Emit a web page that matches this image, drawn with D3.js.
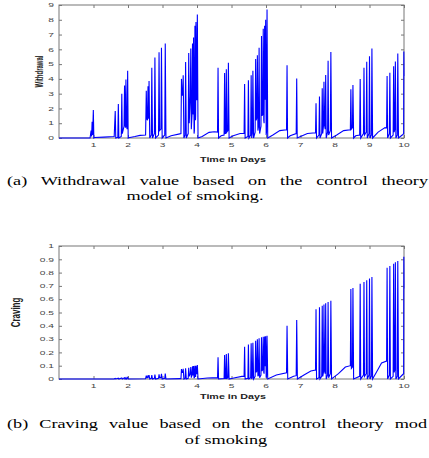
<!DOCTYPE html>
<html>
<head>
<meta charset="utf-8">
<script src="https://cdn.jsdelivr.net/npm/d3@7"></script>
<style>
    body { margin: 0; background: #fff; }
    svg { display: block; }
</style>
</head>
<body>
<div id="chart"></div>
<script>
// tick values / labels
const dayTicks = [1, 2, 3, 4, 5, 6, 7, 8, 9, 10];
const withdrawalTicks = [0, 1, 2, 3, 4, 5, 6, 7, 8, 9];
const cravingTicks = [0, 0.1, 0.2, 0.3, 0.4, 0.5, 0.6, 0.7, 0.8, 0.9, 1];

// withdrawal over time: [day, value]
const withdrawal = [
    [0, 0], [0.9, 0], [0.93, 0.5], [0.945, 0.1], [0.96, 1.1], [0.975, 0.2], [0.995, 1.9], [1.01, 0], [1.03, 0.03],
    [1.3, 0.06], [1.6, 0.1],
    [1.63, 1.82], [1.645, 0], [1.705, 0.05], [1.72, 2.3], [1.735, 0], [1.805, 0.1], [1.82, 3.0], [1.835, 0.3],
    [1.885, 0.8], [1.9, 3.55], [1.915, 0.9], [1.925, 0.7], [1.94, 3.95], [1.955, 0.8], [1.975, 0.6], [1.99, 4.55],
    [2.005, 0], [2.02, 0.02], [2.2, 0.1], [2.35, 0.18], [2.51, 0.2],
    [2.53, 3.2], [2.545, 1.3], [2.565, 1.2], [2.58, 3.5], [2.595, 1.4], [2.6, 1.3], [2.61, 3.85], [2.63, 0],
    [2.675, 0.2], [2.69, 4.75], [2.71, 0], [2.765, 0.3], [2.78, 5.45], [2.8, 0], [2.885, 0.2], [2.9, 5.8],
    [2.915, 0.5], [2.955, 0.6], [2.97, 6.1], [2.99, 0], [3.065, 0.2], [3.08, 6.4], [3.1, 0],
    [3.25, 0.15], [3.5, 0.28], [3.535, 0.3],
    [3.55, 4.0], [3.565, 2.9], [3.585, 2.9], [3.6, 4.25], [3.62, 0], [3.655, 0.2], [3.67, 5.15], [3.69, 0],
    [3.745, 0.3], [3.76, 5.75], [3.775, 1.0], [3.805, 2.8], [3.82, 6.05], [3.835, 0.6], [3.855, 1.5], [3.87, 6.4],
    [3.885, 1.7], [3.89, 1.6], [3.9, 6.8], [3.915, 0.3], [3.925, 0.5], [3.94, 7.6], [3.955, 1.2], [3.96, 1.5],
    [3.97, 7.85], [3.985, 2.6], [3.995, 2.6], [4.01, 8.35], [4.03, 0],
    [4.15, 0.1], [4.35, 0.38], [4.5, 0.42], [4.595, 0.4],
    [4.61, 4.75], [4.625, 0], [4.7, 0.15], [4.785, 0.2], [4.8, 4.4], [4.815, 0.3], [4.835, 0.3], [4.85, 4.65],
    [4.865, 0.4], [4.895, 0.5], [4.91, 5.1], [4.93, 0],
    [5.05, 0.15], [5.25, 0.3], [5.365, 0.3],
    [5.38, 3.65], [5.395, 0], [5.475, 0.1], [5.49, 3.9], [5.505, 0], [5.555, 0.2], [5.57, 4.25], [5.585, 0],
    [5.605, 0.3], [5.62, 4.55], [5.64, 0], [5.685, 0.4], [5.7, 5.35], [5.715, 1.2], [5.735, 1.4], [5.75, 5.6],
    [5.765, 0.5], [5.785, 0.8], [5.8, 6.1], [5.815, 0.3], [5.855, 0.8], [5.87, 6.9], [5.885, 1.5], [5.905, 1.6],
    [5.92, 7.4], [5.935, 1.2], [5.945, 1.0], [5.96, 7.6], [5.975, 2.7], [5.98, 2.6], [5.99, 8.0], [6.005, 0.2],
    [6.015, 0.4], [6.03, 8.7], [6.05, 0],
    [6.2, 0.2], [6.4, 0.5], [6.595, 0.55],
    [6.61, 4.93], [6.625, 0], [6.7, 0.15], [6.875, 0.3], [6.89, 4.03], [6.905, 0],
    [7.0, 0.1], [7.2, 0.3], [7.435, 0.35],
    [7.45, 2.35], [7.465, 0], [7.535, 0.2], [7.55, 2.8], [7.565, 0], [7.615, 0.3], [7.63, 3.36], [7.645, 0.3],
    [7.665, 0.8], [7.68, 3.8], [7.695, 0.9], [7.715, 0.6], [7.73, 4.26], [7.745, 0], [7.785, 0.4], [7.8, 5.22],
    [7.815, 0.2], [7.865, 0.5], [7.88, 5.82], [7.9, 0],
    [8.05, 0.2], [8.25, 0.5], [8.445, 0.55],
    [8.46, 3.3], [8.475, 0.6], [8.505, 0.7], [8.52, 3.58], [8.54, 0], [8.6, 0.15], [8.715, 0.2], [8.73, 4.0],
    [8.745, 0], [8.825, 0.3], [8.84, 4.76], [8.855, 0.2], [8.905, 0.4], [8.92, 5.16], [8.935, 0], [8.985, 0.3],
    [9.0, 5.54], [9.015, 0], [9.055, 0.2], [9.07, 6.06], [9.09, 0],
    [9.25, 0.4], [9.45, 0.7], [9.495, 0.68],
    [9.51, 4.19], [9.525, 0], [9.575, 0.3], [9.59, 4.42], [9.605, 0], [9.685, 0.2], [9.7, 4.85], [9.715, 0.4],
    [9.735, 0.6], [9.75, 5.18], [9.765, 0], [9.805, 0.2], [9.82, 5.72], [9.84, 0],
    [9.95, 0.2], [9.99, 0.3], [9.995, 5.85], [10, 4.2]
];

// craving over time: [day, value]
const craving = [
    [0, 0], [1.6, 0.001],
    [1.63, 0.004], [1.645, 0], [1.72, 0.006], [1.735, 0], [1.82, 0.008], [1.835, 0], [1.9, 0.009], [1.915, 0],
    [1.94, 0.01], [1.955, 0], [1.99, 0.012], [2.005, 0], [2.51, 0.002],
    [2.53, 0.025], [2.545, 0.01], [2.565, 0.01], [2.58, 0.027], [2.595, 0.01], [2.61, 0.03], [2.63, 0],
    [2.675, 0.005], [2.69, 0.03], [2.71, 0], [2.765, 0.005], [2.78, 0.033], [2.8, 0], [2.885, 0.005], [2.9, 0.035],
    [2.915, 0.01], [2.955, 0.01], [2.97, 0.038], [2.99, 0], [3.065, 0.005], [3.08, 0.04], [3.1, 0],
    [3.5, 0.003], [3.535, 0.003],
    [3.55, 0.075], [3.565, 0.05], [3.585, 0.05], [3.6, 0.077], [3.62, 0], [3.655, 0.005], [3.67, 0.08], [3.69, 0],
    [3.745, 0.005], [3.76, 0.085], [3.775, 0.02], [3.805, 0.04], [3.82, 0.09], [3.835, 0.01], [3.855, 0.03],
    [3.87, 0.095], [3.885, 0.03], [3.89, 0.03], [3.9, 0.098], [3.915, 0.01], [3.925, 0.01], [3.94, 0.1],
    [3.955, 0.02], [3.96, 0.02], [3.97, 0.1], [3.985, 0.04], [3.995, 0.04], [4.01, 0.105], [4.03, 0],
    [4.3, 0.008], [4.595, 0.01],
    [4.61, 0.163], [4.625, 0], [4.785, 0.003], [4.8, 0.18], [4.815, 0.005], [4.835, 0.005], [4.85, 0.188],
    [4.865, 0.005], [4.895, 0.008], [4.91, 0.193], [4.93, 0],
    [5.1, 0.01], [5.3, 0.02], [5.365, 0.02],
    [5.38, 0.243], [5.395, 0], [5.475, 0.005], [5.49, 0.26], [5.505, 0], [5.555, 0.01], [5.57, 0.268], [5.585, 0],
    [5.605, 0.01], [5.62, 0.273], [5.64, 0], [5.685, 0.02], [5.7, 0.288], [5.715, 0.05], [5.735, 0.06],
    [5.75, 0.298], [5.765, 0.02], [5.785, 0.03], [5.8, 0.306], [5.815, 0.01], [5.855, 0.03], [5.87, 0.313],
    [5.885, 0.06], [5.905, 0.07], [5.92, 0.318], [5.935, 0.05], [5.945, 0.04], [5.96, 0.32], [5.975, 0.1],
    [5.98, 0.1], [5.99, 0.322], [6.005, 0.01], [6.015, 0.02], [6.03, 0.325], [6.05, 0],
    [6.3, 0.03], [6.595, 0.047],
    [6.61, 0.4], [6.63, 0], [6.8, 0.02], [6.875, 0.025], [6.89, 0.444], [6.91, 0],
    [7.1, 0.03], [7.3, 0.06], [7.435, 0.068],
    [7.45, 0.524], [7.465, 0], [7.535, 0.01], [7.55, 0.539], [7.565, 0], [7.615, 0.02], [7.63, 0.551],
    [7.645, 0.02], [7.665, 0.05], [7.68, 0.561], [7.695, 0.06], [7.715, 0.04], [7.73, 0.569], [7.745, 0],
    [7.785, 0.03], [7.8, 0.579], [7.815, 0.01], [7.865, 0.04], [7.88, 0.588], [7.9, 0],
    [8.1, 0.04], [8.3, 0.09], [8.445, 0.1],
    [8.46, 0.677], [8.475, 0.08], [8.505, 0.09], [8.52, 0.685], [8.54, 0], [8.715, 0.02], [8.73, 0.716],
    [8.745, 0], [8.825, 0.03], [8.84, 0.73], [8.855, 0.02], [8.905, 0.04], [8.92, 0.742], [8.935, 0],
    [8.985, 0.03], [9.0, 0.755], [9.015, 0], [9.055, 0.02], [9.07, 0.766], [9.09, 0],
    [9.2, 0.05], [9.35, 0.12], [9.495, 0.135],
    [9.51, 0.836], [9.525, 0], [9.575, 0.03], [9.59, 0.85], [9.605, 0], [9.685, 0.02], [9.7, 0.866],
    [9.715, 0.05], [9.735, 0.07], [9.75, 0.878], [9.765, 0], [9.805, 0.02], [9.82, 0.888], [9.84, 0],
    [9.95, 0.03], [9.99, 0.04], [9.995, 0.92], [10, 0.68]
];

const W = 429, H = 458;
const sx = 1.7;        // the figure is stretched horizontally
const capSx = 1.35;
const capSize = 13.5;
const lineColor = '#0000ff';
const frameColor = '#777';

const svg = d3.select('#chart').append('svg')
    .attr('width', W)
    .attr('height', H);

const panels = [
    {
        data: withdrawal, ticks: withdrawalTicks, max: 9, top: 5, bottom: 138,
        label: 'Withdrawal', labelSize: 6, labelX: 39, titleY: 162,
        fmt: d => d
    },
    {
        data: craving, ticks: cravingTicks, max: 1, top: 246, bottom: 379,
        label: 'Craving', labelSize: 8, labelX: 15, titleY: 399,
        fmt: d => d === 0 || d === 1 ? String(d) : d.toFixed(1)
    }
];

const left = 59, right = 404;

panels.forEach(p => {
    const x = d3.scaleLinear().domain([0, 10]).range([left, right]);
    const y = d3.scaleLinear().domain([0, p.max]).range([p.bottom, p.top]);
    const g = svg.append('g');

    // ticks all around, pointing inward
    const axes = [
        [d3.axisBottom(x).tickValues(dayTicks), `translate(0,${p.bottom})`],
        [d3.axisTop(x).tickValues(dayTicks), `translate(0,${p.top})`],
        [d3.axisLeft(y).tickValues(p.ticks), `translate(${left},0)`],
        [d3.axisRight(y).tickValues(p.ticks), `translate(${right},0)`]
    ];
    axes.forEach(([ax, tr]) => {
        const a = g.append('g')
            .attr('transform', tr)
            .call(ax.tickSize(-3).tickFormat(''));
        a.select('.domain').remove();
        a.selectAll('line').attr('stroke', frameColor);
    });

    g.append('rect')
        .attr('x', left)
        .attr('y', p.top)
        .attr('width', right - left)
        .attr('height', p.bottom - p.top)
        .attr('fill', 'none')
        .attr('stroke', frameColor)
        .attr('stroke-width', 1);

    // tick labels (stretched like the original)
    g.selectAll('.xlab')
        .data(dayTicks)
        .join('text')
        .attr('transform', d => `translate(${x(d)},${p.bottom + 9}) scale(${sx},1)`)
        .attr('text-anchor', 'middle')
        .attr('font-family', 'Liberation Sans, Arial, sans-serif')
        .attr('font-size', 6)
        .attr('fill', '#444')
        .text(d => d);

    g.selectAll('.ylab')
        .data(p.ticks)
        .join('text')
        .attr('transform', d => `translate(${left - 5},${y(d) + 2.2}) scale(${sx},1)`)
        .attr('text-anchor', 'end')
        .attr('font-family', 'Liberation Sans, Arial, sans-serif')
        .attr('font-size', 6)
        .attr('fill', '#444')
        .text(p.fmt);

    g.append('text')
        .attr('transform', `translate(233,${p.titleY}) scale(1.65,1)`)
        .attr('text-anchor', 'middle')
        .attr('font-family', 'Liberation Sans, Arial, sans-serif')
        .attr('font-weight', 'bold')
        .attr('font-size', 6.5)
        .attr('fill', '#222')
        .text('Time in Days');

    g.append('text')
        .attr('transform', `translate(${p.labelX},${(p.top + p.bottom) / 2}) scale(${sx},1) rotate(-90)`)
        .attr('text-anchor', 'middle')
        .attr('dy', '0.35em')
        .attr('font-family', 'Liberation Sans, Arial, sans-serif')
        .attr('font-weight', 'bold')
        .attr('font-size', p.labelSize)
        .attr('fill', '#222')
        .text(p.label);

    const line = d3.line()
        .x(d => x(d[0]))
        .y(d => y(d[1]));

    g.append('path')
        .datum(p.data)
        .attr('fill', 'none')
        .attr('stroke', lineColor)
        .attr('stroke-width', 1.1)
        .attr('stroke-linejoin', 'miter')
        .attr('d', line);
});

// captions; a justified first line gets its word spacing from the width it has to fill
function caption(xPos, yPos, str, anchor, spanWidth) {
    const t = svg.append('text')
        .attr('transform', `translate(${xPos},${yPos}) scale(${capSx},1)`)
        .attr('text-anchor', anchor)
        .attr('font-family', 'Liberation Serif, Times New Roman, serif')
        .attr('font-size', capSize)
        .attr('fill', '#000')
        .text(str);
    if (spanWidth) {
        const w = t.node().getComputedTextLength();
        const n = str.split(' ').length - 1;
        t.attr('word-spacing', Math.max(0, (spanWidth / capSx - w) / n));
    }
}

caption(7, 185, '(a) Withdrawal value based on the control theory', 'start', 421);
caption(195, 200, 'model of smoking.', 'middle');
caption(7, 428, '(b) Craving value based on the control theory mod', 'start', 420);
caption(226, 444, 'of smoking', 'middle');
</script>
</body>
</html>
